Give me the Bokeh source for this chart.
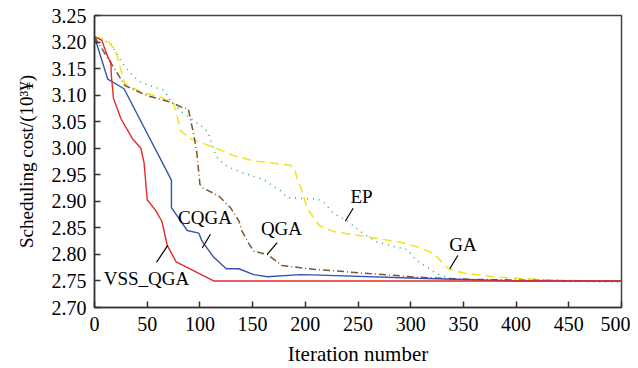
from bokeh.plotting import figure
from bokeh.models import FixedTicker, PrintfTickFormatter, Label, Range1d
from bokeh.embed import file_html
from bokeh.resources import INLINE

# ---- data ----
vss_x = [0, 7, 13, 15.5, 16, 18, 25, 36, 44, 47, 48, 50, 58, 64, 69, 77.5, 113, 500]
vss_y = [3.21, 3.203, 3.17, 3.162, 3.137, 3.094, 3.056, 3.018, 3.0, 2.973, 2.95, 2.903, 2.883, 2.862, 2.817, 2.786, 2.75, 2.75]

cqga_x = [0, 12.6, 28, 73, 73, 88, 99, 102, 113, 125, 137, 151, 164, 195, 214, 307, 402, 500]
cqga_y = [3.21, 3.13, 3.112, 2.94, 2.888, 2.845, 2.84, 2.825, 2.795, 2.773, 2.773, 2.762, 2.758, 2.762, 2.761, 2.755, 2.75, 2.75]

qga_x = [0, 3, 15, 29, 50, 72, 83, 89, 94, 97, 100, 103, 118, 129, 137, 140, 145, 151, 164, 178, 208, 260, 307, 355, 465, 500]
qga_y = [3.21, 3.2, 3.162, 3.118, 3.099, 3.087, 3.077, 3.074, 3.027, 2.993, 2.932, 2.925, 2.91, 2.888, 2.863, 2.844, 2.825, 2.806, 2.80, 2.779, 2.772, 2.764, 2.757, 2.753, 2.75, 2.75]

ga_x = [0, 12, 20, 23, 29, 44, 63, 75, 78, 81.6, 91, 113, 132, 151, 186, 190, 192, 196, 202, 213, 227, 259, 290, 309, 322, 336, 350, 382, 423, 467, 500]
ga_y = [3.21, 3.203, 3.184, 3.162, 3.121, 3.106, 3.096, 3.084, 3.065, 3.033, 3.018, 3.002, 2.986, 2.976, 2.968, 2.961, 2.945, 2.924, 2.886, 2.855, 2.843, 2.833, 2.823, 2.813, 2.801, 2.773, 2.765, 2.757, 2.753, 2.75, 2.75]

ep_x = [0, 15, 20, 26, 36, 44, 66, 72, 83, 100.6, 108, 110, 116, 124, 138.5, 160.6, 170, 176.5, 183, 198.6, 211, 217.5, 227, 240, 251, 267, 284, 297, 304.5, 315.6, 323.5, 340, 400, 500]
ep_y = [3.21, 3.198, 3.181, 3.162, 3.137, 3.124, 3.109, 3.09, 3.068, 3.043, 3.03, 3.015, 2.983, 2.968, 2.955, 2.941, 2.928, 2.92, 2.907, 2.905, 2.905, 2.898, 2.877, 2.863, 2.845, 2.824, 2.815, 2.809, 2.79, 2.776, 2.765, 2.752, 2.75, 2.748]

x_ticks = [0, 50, 100, 150, 200, 250, 300, 350, 400, 450, 500]
y_ticks = [2.70, 2.75, 2.80, 2.85, 2.90, 2.95, 3.00, 3.05, 3.10, 3.15, 3.20, 3.25]

# label names, anchor (text center) and leader lines (data units)
label_names = ["VSS_QGA", "CQGA", "QGA", "EP", "GA"]
label_x = [49.3, 104.8, 177.4, 253.3, 349.6]
label_y = [2.755, 2.869, 2.849, 2.91, 2.819]
lead_x0 = [58.8, 102.2, 163.9, 238.0, 337.1]
lead_y0 = [2.785, 2.812, 2.800, 2.863, 2.773]
lead_x1 = [69.5, 110.0, 173.3, 245.4, 344.7]
lead_y1 = [2.817, 2.838, 2.822, 2.887, 2.798]

FONT = "Liberation Serif"

p = figure(frame_width=527, frame_height=292, output_backend="svg", toolbar_location=None,
           x_range=Range1d(0, 500), y_range=Range1d(2.70, 3.25),
           min_border_left=94, min_border_right=9, min_border_top=15, min_border_bottom=0)
p.grid.visible = False
p.outline_line_color = "#444444"
p.outline_line_width = 1.5
p.background_fill_color = "white"
p.border_fill_color = "white"

p.line(ep_x, ep_y, color="#2aa862", line_width=1.5, line_dash="1 5")
p.line(ga_x, ga_y, color="#f2e21c", line_width=1.5, line_dash="9 5")
p.line(qga_x, qga_y, color="#7a5530", line_width=1.5, line_dash="7 3 1 3")
p.line(cqga_x, cqga_y, color="#3553b0", line_width=1.4)
p.line(vss_x, vss_y, color="#e42a2a", line_width=1.4)

p.segment(x0=lead_x0, y0=lead_y0, x1=lead_x1, y1=lead_y1, color="black", line_width=1.2)
for name, lx, ly in zip(label_names, label_x, label_y):
    p.add_layout(Label(x=lx, y=ly, text=name, text_align="center", text_baseline="middle",
                       text_font=FONT, text_font_size="19px", text_color="black"))

p.xaxis.ticker = FixedTicker(ticks=x_ticks)
p.yaxis.ticker = FixedTicker(ticks=y_ticks)
p.yaxis.formatter = PrintfTickFormatter(format="%.2f")
for ax in (p.xaxis, p.yaxis):
    ax.major_tick_in = 6
    ax.major_tick_out = 0
    ax.minor_tick_in = 0
    ax.minor_tick_out = 0
    ax.axis_line_color = "#333333"
    ax.axis_line_width = 1.5
    ax.major_tick_line_color = "#333333"
    ax.major_tick_line_width = 1.5
    ax.major_label_text_font = FONT
    ax.major_label_text_font_size = "20px"
    ax.major_label_text_color = "black"
    ax.axis_label_text_font = FONT
    ax.axis_label_text_font_style = "normal"
    ax.axis_label_text_color = "black"
p.xaxis.axis_label_text_font_size = "21px"
p.yaxis.axis_label_text_font_size = "19px"
p.xaxis.axis_label = "Iteration number"
p.yaxis.axis_label = "Scheduling cost/(10³¥)"
p.xaxis.major_label_standoff = 9
p.yaxis.major_label_standoff = 8
p.xaxis.axis_label_standoff = 8
p.yaxis.axis_label_standoff = 12

open("out.html", "w").write(file_html(p, INLINE))
